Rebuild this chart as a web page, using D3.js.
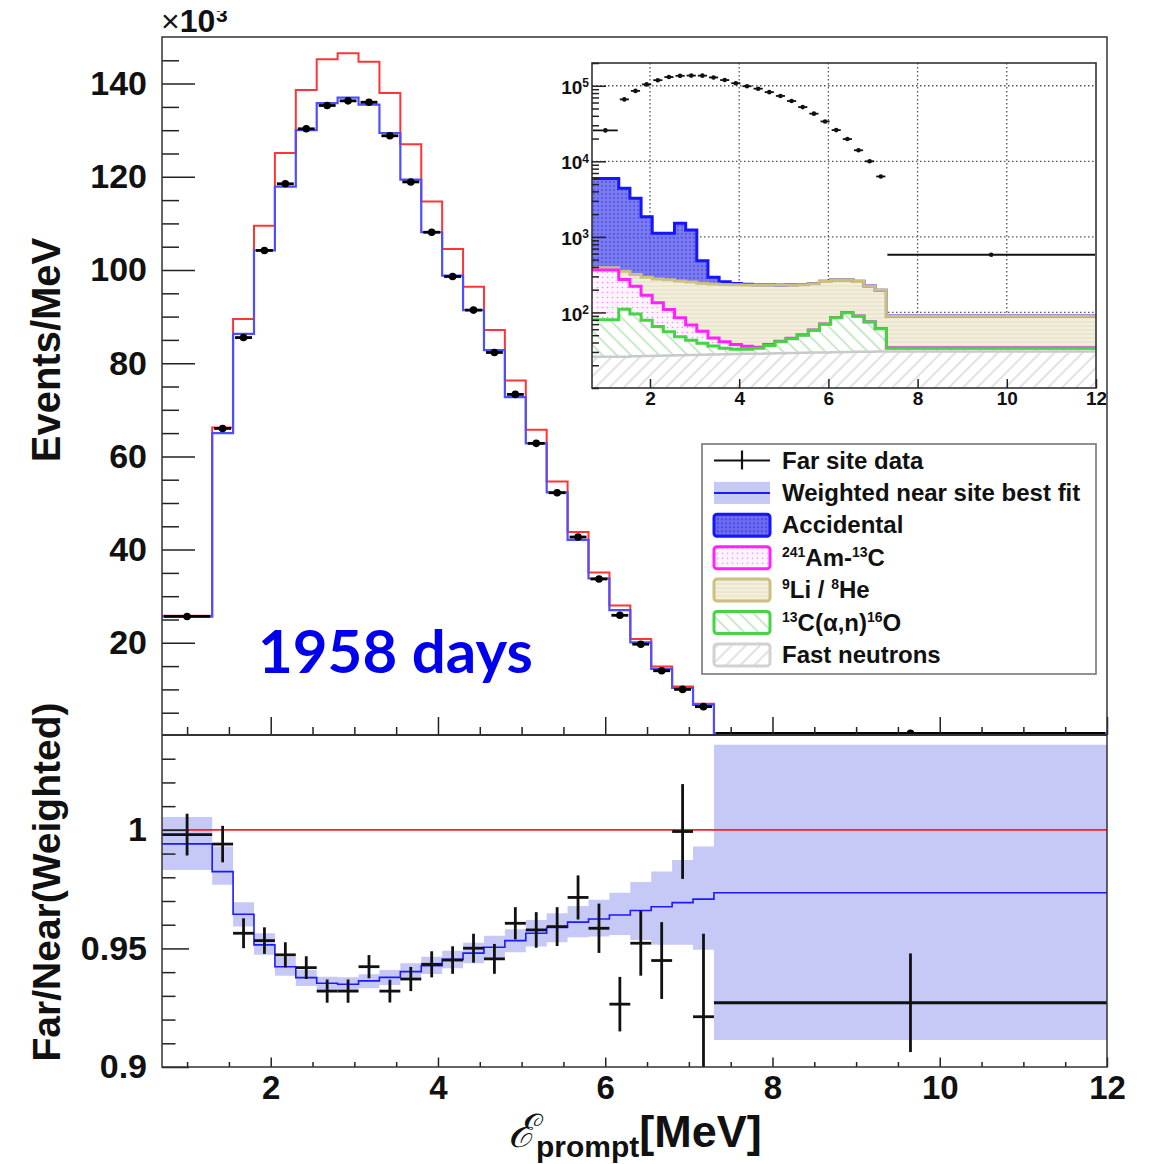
<!DOCTYPE html>
<html>
<head>
  <meta charset="utf-8">
  <script src="https://d3js.org/d3.v7.min.js"></script>
  <style>
    body {
      margin: 0;
      background: #fff;
    }
    text {
      font-family: "Liberation Sans", Arial, sans-serif;
      font-weight: bold;
    }
  </style>
</head>

<body>

  <svg id="chart" width="1156" height="1164"></svg>

  <script>

    // bin edges [MeV]
    var edges = [0.7, 1.3, 1.55, 1.8, 2.05, 2.3, 2.55, 2.8, 3.05, 3.3, 3.55, 3.8, 4.05, 4.3, 4.55,
      4.8, 5.05, 5.3, 5.55, 5.8, 6.05, 6.3, 6.55, 6.8, 7.05, 7.3, 12];

    // top panel, x10^3 events/MeV
    var farData = [25.65, 66.0, 85.5, 104.2, 118.5, 130.3, 135.3, 136.3, 136.0, 128.8, 118.9, 108.1, 98.6,
      91.4, 82.3, 73.3, 62.8, 52.2, 42.7, 33.7, 25.9, 19.7, 14.0, 10.0, 6.3, 0.58];
    var noOsc = [25.8, 66.2, 89.5, 109.5, 125.1, 138.6, 145.2, 146.5, 144.7, 138.0, 127.0, 114.7, 104.5,
      96.4, 87.1, 76.3, 65.7, 54.6, 43.8, 35.1, 28.0, 20.8, 14.9, 10.6, 6.9, 0.6];
    var nearFit = [25.6, 65.0, 86.3, 104.2, 117.9, 130.0, 135.8, 137.0, 135.5, 129.4, 119.4, 108.1, 98.8,
      91.4, 82.8, 72.7, 62.8, 52.3, 42.1, 33.8, 27.0, 20.1, 14.4, 10.3, 6.7, 0.58];

    // inset backgrounds, events/MeV (stacked bottom to top)
    var fastN = [26, 26, 26.3, 26.5, 26.8, 27, 27.2, 27.4, 27.6, 27.8, 28, 28.2, 28.4, 28.5, 28.7,
      28.9, 29, 29.2, 29.4, 29.6, 29.8, 30, 30.1, 30.2, 30.3, 30.3];
    var c13 = [54, 84, 68.7, 52.5, 38.2, 28.5, 20.4, 15.6, 11.4, 8.1, 5.5, 4.3, 4.1, 5, 7.8,
      12.1, 16, 20.8, 28.6, 40.4, 55.2, 69, 58.9, 44.8, 30.7, 3.2];
    var amc = [284, 163, 127, 90, 69, 53.5, 37.4, 25, 17.5, 10.1, 7.5, 5.2, 3.3, 1.2, 1.2,
      0.5, 0.5, 0.5, 0.5, 0.5, 0.5, 0.5, 0.5, 0.5, 0.5, 0.5];
    var lihe = [26, 77, 96, 123, 144, 161, 175, 184, 186.5, 192, 193, 194.3, 194.2, 195.3, 192.3,
      188.5, 185.5, 182.5, 181.5, 186.5, 184.5, 170.5, 167.5, 146.5, 134.5, 55];
    var acc = [5555, 4035, 2918, 1554, 836, 844, 1253, 982, 241, 54, 21, 9, 6, 3, 2,
      1, 1, 1, 1, 1, 1, 1, 1, 1, 1, 0.5];

    // ratio panel
    var ratio = [0.998, 0.994, 0.9564, 0.9533, 0.9473, 0.9419, 0.932, 0.932, 0.9423, 0.932, 0.9371, 0.9433,
      0.9451, 0.9501, 0.9456, 0.9606, 0.9578, 0.9592, 0.9715, 0.9585, 0.9265, 0.9522, 0.9449, 0.9993,
      0.9212, 0.9271];
    var ratioErr = [0.0088, 0.0077, 0.0063, 0.0056, 0.0053, 0.0048, 0.0049, 0.0049, 0.0049, 0.0048, 0.0051,
      0.0055, 0.0058, 0.0061, 0.0063, 0.0068, 0.0075, 0.0082, 0.0093, 0.0104, 0.0115, 0.0137, 0.0162,
      0.020, 0.035, 0.0208];
    var fitRatio = [0.9941, 0.9824, 0.9644, 0.9515, 0.9423, 0.9377, 0.9353, 0.9349, 0.9363, 0.9378, 0.9402,
      0.9427, 0.9454, 0.948, 0.9505, 0.9533, 0.9564, 0.9588, 0.9611, 0.9624, 0.9641, 0.966, 0.9676,
      0.9693, 0.9708, 0.9735];
    var bandHi = [1.0054, 0.993, 0.9695, 0.9564, 0.9465, 0.9409, 0.9381, 0.9378, 0.9391, 0.9409, 0.9437,
      0.9465, 0.949, 0.9524, 0.9553, 0.9581, 0.962, 0.9648, 0.9679, 0.9705, 0.9735, 0.978, 0.9824,
      0.9873, 0.993, 1.0359];
    var bandLo = [0.9831, 0.9768, 0.9592, 0.9473, 0.9385, 0.9342, 0.9325, 0.932, 0.9332, 0.9346, 0.9367,
      0.9392, 0.9416, 0.9437, 0.9459, 0.9484, 0.9508, 0.9526, 0.9547, 0.955, 0.9557, 0.9536, 0.9515,
      0.9515, 0.9494, 0.9114];

    var yTopMajor = [20, 40, 60, 80, 100, 120, 140];
    var yBotMajor = [0.9, 0.95, 1];
    var xMajor = [2, 4, 6, 8, 10, 12];
    var insetYTicks = [1e2, 1e3, 1e4, 1e5];

    // label parts: plain strings, or [text] for a superscript
    var legendItems = [
      { key: "data", label: ["Far site data"] },
      { key: "fit", label: ["Weighted near site best fit"] },
      { key: "acc", label: ["Accidental"], fill: "url(#accPat)", stroke: "#1515ff" },
      { key: "amc", label: [["241"], "Am-", ["13"], "C"], fill: "url(#amcPat)", stroke: "#ff22ff" },
      { key: "lihe", label: [["9"], "Li / ", ["8"], "He"], fill: "url(#lihePat)", stroke: "#cdbf80" },
      { key: "c13", label: [["13"], "C(α,n)", ["16"], "O"], fill: "url(#c13Pat)", stroke: "#44d444" },
      { key: "fastN", label: ["Fast neutrons"], fill: "url(#fnPat)", stroke: "#d2d2d2" }
    ];

    var svg = d3.select("#chart");
    var defs = svg.append("defs");

    var x = d3.scaleLinear().domain([0.7, 12]).range([162, 1107]);
    var yTop = d3.scaleLinear().domain([0, 150]).range([736, 37]);
    var yBot = d3.scaleLinear().domain([0.9, 1.04]).range([1067, 735]);

    var xIn = d3.scaleLinear().domain([0.7, 12]).range([592, 1096]);
    var yIn = d3.scaleLog().domain([10, 2e5]).range([388, 63]).clamp(true);

    var centers = edges.slice(0, -1).map((e, i) => (e + edges[i + 1]) / 2);

    function steps(vals) {
      return edges.map((e, i) => [e, vals[Math.min(i, vals.length - 1)]]);
    }

    function stepLine(xs, ys) {
      return d3.line().curve(d3.curveStepAfter).x(d => xs(d[0])).y(d => ys(d[1]));
    }

    // patterns
    function dotPattern(id, bg, dot, size, r) {
      var p = defs.append("pattern").attr("id", id)
        .attr("patternUnits", "userSpaceOnUse")
        .attr("width", size).attr("height", size);
      p.append("rect").attr("width", size).attr("height", size).attr("fill", bg);
      p.append("circle").attr("cx", size / 2).attr("cy", size / 2).attr("r", r).attr("fill", dot);
    }
    function hatchPattern(id, color, angle) {
      var p = defs.append("pattern").attr("id", id)
        .attr("patternUnits", "userSpaceOnUse")
        .attr("width", 10).attr("height", 10)
        .attr("patternTransform", "rotate(" + angle + ")");
      p.append("rect").attr("width", 10).attr("height", 10).attr("fill", "#fff");
      p.append("line").attr("x1", 5).attr("x2", 5).attr("y1", 0).attr("y2", 10)
        .attr("stroke", color).attr("stroke-width", 1.2);
    }
    dotPattern("accPat", "#6c6cf2", "#3a3ad6", 4, 0.9);
    dotPattern("amcPat", "#fff3ff", "#f08af0", 5, 0.8);
    var lp = defs.append("pattern").attr("id", "lihePat")
      .attr("patternUnits", "userSpaceOnUse").attr("width", 6).attr("height", 4);
    lp.append("rect").attr("width", 6).attr("height", 4).attr("fill", "#f3efdc");
    lp.append("line").attr("x1", 0).attr("x2", 6).attr("y1", 2).attr("y2", 2)
      .attr("stroke", "#e4ddc0").attr("stroke-width", 1);
    hatchPattern("c13Pat", "#a3dca3", -45);
    hatchPattern("fnPat", "#cfcfcf", 45);

    defs.append("clipPath").attr("id", "clipTop").append("rect")
      .attr("x", 162).attr("y", 37).attr("width", 945).attr("height", 698);
    defs.append("clipPath").attr("id", "clipBot").append("rect")
      .attr("x", 162).attr("y", 735).attr("width", 945).attr("height", 332);
    defs.append("clipPath").attr("id", "clipIn").append("rect")
      .attr("x", 592).attr("y", 63).attr("width", 504).attr("height", 325);
    defs.append("clipPath").attr("id", "clipExp").append("rect")
      .attr("x", 0).attr("y", 11).attr("width", 400).attr("height", 40);

    function styleAxis(g, size) {
      g.attr("font-size", null).attr("font-family", null);
      g.select(".domain").remove();
      g.selectAll("line").attr("stroke", "#222").attr("stroke-width", 1.5);
      g.selectAll("text").attr("font-size", size).attr("fill", "#111");
    }

    // ---------- top panel ----------
    var topG = svg.append("g").attr("clip-path", "url(#clipTop)");

    topG.append("path").datum(steps(noOsc))
      .attr("fill", "none").attr("stroke", "#ff3434").attr("stroke-width", 2)
      .attr("d", stepLine(x, yTop));

    topG.append("path").datum(steps(nearFit))
      .attr("fill", "none").attr("stroke", "#4e4eff").attr("stroke-width", 2.2)
      .attr("d", stepLine(x, yTop));

    var pts = topG.append("g");
    pts.selectAll("line").data(farData).join("line")
      .attr("x1", (d, i) => x(edges[i]) + 2)
      .attr("x2", (d, i) => x(edges[i + 1]) - 2)
      .attr("y1", d => yTop(d)).attr("y2", d => yTop(d))
      .attr("stroke", "#000").attr("stroke-width", 2.8);
    pts.selectAll("circle").data(farData).join("circle")
      .attr("cx", (d, i) => x(centers[i])).attr("cy", d => yTop(d))
      .attr("r", 3.8).attr("fill", "#000");

    svg.append("g").attr("transform", "translate(162,0)")
      .call(d3.axisLeft(yTop).tickValues(yTopMajor).tickSize(-33).tickPadding(15).tickFormat(d3.format("d")))
      .call(g => styleAxis(g, 34));
    svg.append("g").attr("transform", "translate(162,0)")
      .call(d3.axisLeft(yTop).tickValues(d3.range(5, 150, 5).filter(v => v % 20)).tickSize(-17).tickFormat(""))
      .call(g => styleAxis(g, 0));

    svg.append("g").attr("transform", "translate(0,735)")
      .call(d3.axisBottom(x).tickValues(xMajor).tickSize(-18).tickFormat(""))
      .call(g => styleAxis(g, 0));
    svg.append("g").attr("transform", "translate(0,735)")
      .call(d3.axisBottom(x).tickValues(d3.range(1, 12, 0.5).filter(v => v % 2)).tickSize(-8).tickFormat(""))
      .call(g => styleAxis(g, 0));

    // x10^3
    var mult = svg.append("text").attr("x", 161).attr("y", 32).attr("fill", "#111");
    mult.append("tspan").attr("font-size", 32).attr("font-weight", "normal").text("×");
    mult.append("tspan").attr("font-size", 32).text("10");
    svg.append("text").attr("x", 216).attr("y", 22).attr("font-size", 21)
      .attr("clip-path", "url(#clipExp)").attr("fill", "#111").text("3");

    svg.append("text").attr("x", 258).attr("y", 673)
      .style("font-family", "Lato, 'Open Sans', sans-serif")
      .attr("font-size", 60).attr("fill", "#0000ee").text("1958 days");

    // ---------- inset ----------
    var inset = svg.append("g");
    inset.append("rect").attr("x", 592).attr("y", 63).attr("width", 504).attr("height", 325).attr("fill", "#fff");

    var ig = inset.append("g").attr("clip-path", "url(#clipIn)");

    ig.selectAll(".vgrid").data([2, 4, 6, 8, 10]).join("line")
      .attr("x1", d => xIn(d)).attr("x2", d => xIn(d)).attr("y1", 63).attr("y2", 388)
      .attr("stroke", "#555").attr("stroke-width", 1.3).attr("stroke-dasharray", "1.5,2.5");
    ig.selectAll(".hgrid").data(insetYTicks).join("line")
      .attr("x1", 592).attr("x2", 1096).attr("y1", d => yIn(d)).attr("y2", d => yIn(d))
      .attr("stroke", "#555").attr("stroke-width", 1.3).attr("stroke-dasharray", "1.5,2.5");

    var keys = ["fastN", "c13", "amc", "lihe", "acc"];
    var bgArrays = { fastN: fastN, c13: c13, amc: amc, lihe: lihe, acc: acc };
    var stackRows = centers.map((c, i) => {
      var r = {};
      keys.forEach(k => r[k] = bgArrays[k][i]);
      return r;
    });
    var series = d3.stack().keys(keys)(stackRows);
    var fills = { fastN: "url(#fnPat)", c13: "url(#c13Pat)", amc: "url(#amcPat)", lihe: "url(#lihePat)", acc: "url(#accPat)" };
    var strokes = { fastN: "#cacaca", c13: "#44d444", amc: "#ff22ff", lihe: "#cdbf80", acc: "#1515ff" };
    var widths = { fastN: 2.5, c13: 3, amc: 3, lihe: 3, acc: 3 };

    var stepArea = d3.area().curve(d3.curveStepAfter)
      .x(d => xIn(d[0])).y0(d => yIn(d[1])).y1(d => yIn(d[2]));

    series.forEach(s => {
      var pts2 = edges.map((e, i) => {
        var v = s[Math.min(i, s.length - 1)];
        return [e, v[0], v[1]];
      });
      ig.append("path").datum(pts2)
        .attr("fill", fills[s.key])
        .attr("opacity", s.key === "acc" ? 0.9 : 1)
        .attr("d", stepArea);
    });
    // outlines: upper layers first so lower ones stay visible where they meet
    series.slice().reverse().forEach(s => {
      var tops = edges.map((e, i) => [e, s[Math.min(i, s.length - 1)][1]]);
      ig.append("path").datum(tops)
        .attr("fill", "none").attr("stroke", strokes[s.key]).attr("stroke-width", widths[s.key])
        .attr("d", stepLine(xIn, yIn));
    });

    ig.selectAll(".idata").data(farData).join("line")
      .attr("x1", (d, i) => xIn(edges[i]) + 1).attr("x2", (d, i) => xIn(edges[i + 1]) - 1)
      .attr("y1", d => yIn(d * 1000)).attr("y2", d => yIn(d * 1000))
      .attr("stroke", "#111").attr("stroke-width", 1.8);
    ig.selectAll(".idot").data(farData).join("circle")
      .attr("cx", (d, i) => xIn(centers[i])).attr("cy", d => yIn(d * 1000))
      .attr("r", 2.3).attr("fill", "#111");

    svg.append("g").attr("transform", "translate(592,0)")
      .call(d3.axisLeft(yIn).tickValues(insetYTicks).tickSize(-14).tickPadding(3).tickFormat(""))
      .call(g => styleAxis(g, 19))
      .call(g => g.selectAll(".tick").append("text")
        .attr("x", -3).attr("dy", "0.4em").attr("text-anchor", "end")
        .attr("font-size", 19).attr("fill", "#111")
        .text("10")
        .append("tspan").attr("dy", "-0.55em").attr("font-size", 12)
        .text(d => Math.round(Math.log10(d))));
    svg.append("g").attr("transform", "translate(592,0)")
      .call(d3.axisLeft(yIn).tickValues(yIn.ticks().filter(v => insetYTicks.indexOf(v) < 0)).tickSize(-7).tickFormat(""))
      .call(g => styleAxis(g, 0));
    svg.append("g").attr("transform", "translate(0,388)")
      .call(d3.axisBottom(xIn).tickValues(xMajor).tickSize(-9).tickPadding(4))
      .call(g => styleAxis(g, 19));

    inset.append("rect").attr("x", 592).attr("y", 63).attr("width", 504).attr("height", 325)
      .attr("fill", "none").attr("stroke", "#333").attr("stroke-width", 1.6);

    // ---------- legend ----------
    var leg = svg.append("g");
    leg.append("rect").attr("x", 702).attr("y", 444).attr("width", 394).attr("height", 230)
      .attr("fill", "#fff").attr("stroke", "#777").attr("stroke-width", 1.6);

    var rows = leg.selectAll(".row").data(legendItems).join("g")
      .attr("transform", (d, i) => "translate(0," + (468.5 + i * 32.4) + ")");

    rows.each(function (d) {
      var g = d3.select(this);
      if (d.key === "data") {
        g.append("line").attr("x1", 714).attr("x2", 770).attr("y1", -8).attr("y2", -8)
          .attr("stroke", "#111").attr("stroke-width", 2.2);
        g.append("line").attr("x1", 742).attr("x2", 742).attr("y1", -18).attr("y2", 1)
          .attr("stroke", "#111").attr("stroke-width", 2.2);
      } else if (d.key === "fit") {
        g.append("rect").attr("x", 714).attr("y", -19).attr("width", 56).attr("height", 22).attr("fill", "#c6c8f6");
        g.append("line").attr("x1", 714).attr("x2", 770).attr("y1", -8).attr("y2", -8)
          .attr("stroke", "#1a1aff").attr("stroke-width", 2);
      } else {
        g.append("rect").attr("x", 714).attr("y", -19).attr("width", 56).attr("height", 22).attr("rx", 3)
          .attr("fill", d.fill).attr("stroke", d.stroke).attr("stroke-width", 3);
      }
      var t = g.append("text").attr("x", 782).attr("y", 0).attr("font-size", 24).attr("fill", "#111");
      var shift = 0;
      d.label.forEach(part => {
        var sup = Array.isArray(part);
        var target = sup ? -9 : 0;
        t.append("tspan")
          .attr("font-size", sup ? 14 : 24)
          .attr("dy", target - shift)
          .text(sup ? part[0] : part);
        shift = target;
      });
    });

    // ---------- ratio panel ----------
    var bot = svg.append("g").attr("clip-path", "url(#clipBot)");

    var bandPts = edges.map((e, i) => [e, bandLo[Math.min(i, 25)], bandHi[Math.min(i, 25)]]);
    bot.append("path").datum(bandPts)
      .attr("fill", "#c6c8f6")
      .attr("d", d3.area().curve(d3.curveStepAfter).x(d => x(d[0])).y0(d => yBot(d[1])).y1(d => yBot(d[2])));

    bot.append("line").attr("x1", x(0.7)).attr("x2", x(12)).attr("y1", yBot(1)).attr("y2", yBot(1))
      .attr("stroke", "#ff2020").attr("stroke-width", 1.6);

    bot.append("path").datum(steps(fitRatio))
      .attr("fill", "none").attr("stroke", "#1a1aff").attr("stroke-width", 1.6)
      .attr("d", stepLine(x, yBot));

    var cross = bot.append("g").attr("stroke", "#111").attr("stroke-width", 2.8);
    cross.selectAll(".h").data(ratio).join("line")
      .attr("x1", (d, i) => x(edges[i])).attr("x2", (d, i) => x(edges[i + 1]))
      .attr("y1", d => yBot(d)).attr("y2", d => yBot(d));
    cross.selectAll(".v").data(ratio).join("line")
      .attr("x1", (d, i) => x(centers[i])).attr("x2", (d, i) => x(centers[i]))
      .attr("y1", (d, i) => yBot(d - ratioErr[i])).attr("y2", (d, i) => yBot(d + ratioErr[i]));

    svg.append("g").attr("transform", "translate(162,0)")
      .call(d3.axisLeft(yBot).tickValues(yBotMajor).tickSize(-27).tickPadding(15).tickFormat(d => String(d)))
      .call(g => styleAxis(g, 34));
    svg.append("g").attr("transform", "translate(162,0)")
      .call(d3.axisLeft(yBot).tickValues(d3.range(91, 104).filter(v => v !== 95 && v !== 100).map(v => v / 100))
        .tickSize(-13.5).tickFormat(""))
      .call(g => styleAxis(g, 0));

    svg.append("g").attr("transform", "translate(0,1067)")
      .call(d3.axisBottom(x).tickValues(xMajor).tickSize(-9.5).tickPadding(9))
      .call(g => styleAxis(g, 33));
    svg.append("g").attr("transform", "translate(0,1067)")
      .call(d3.axisBottom(x).tickValues(d3.range(1, 12, 0.5).filter(v => v % 2)).tickSize(-5).tickFormat(""))
      .call(g => styleAxis(g, 0));

    // frame
    var frameG = svg.append("g").attr("stroke", "#333").attr("fill", "none");
    frameG.append("path").attr("stroke-width", 1.5)
      .attr("d", "M162,37H1107V1067H162Z");
    frameG.append("line").attr("x1", 162).attr("x2", 1107).attr("y1", 735).attr("y2", 735).attr("stroke-width", 2.2);

    // titles
    svg.append("text").attr("transform", "translate(60,350) rotate(-90)")
      .attr("text-anchor", "middle").attr("font-size", 40).attr("fill", "#111").text("Events/MeV");
    svg.append("text").attr("transform", "translate(60,882) rotate(-90)")
      .attr("text-anchor", "middle").attr("font-size", 39).attr("fill", "#111").text("Far/Near(Weighted)");

    var xt = svg.append("text").attr("x", 508).attr("y", 1147).attr("fill", "#111");
    xt.append("tspan").style("font-family", "'DejaVu Serif', serif").attr("font-weight", "normal")
      .attr("font-style", "italic").attr("font-size", 46).text("ℰ");
    xt.append("tspan").attr("font-size", 30).attr("dy", 10).text("prompt");
    xt.append("tspan").attr("font-size", 45).attr("dy", -10).text("[MeV]");

  </script>
</body>
</html>
